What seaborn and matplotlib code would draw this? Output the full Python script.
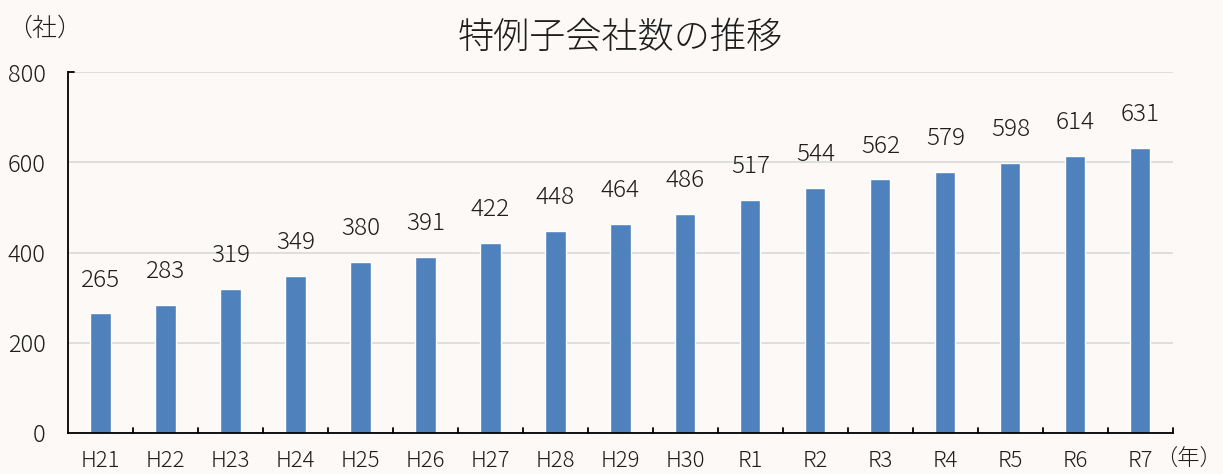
import matplotlib
matplotlib.use("Agg")
import matplotlib.pyplot as plt
import seaborn as sns
import pandas as pd

years = ["H21", "H22", "H23", "H24", "H25", "H26", "H27", "H28", "H29",
         "H30", "R1", "R2", "R3", "R4", "R5", "R6", "R7"]
counts = [265, 283, 319, 349, 380, 391, 422, 448, 464,
          486, 517, 544, 562, 579, 598, 614, 631]

sns.set_style("white")
plt.rcParams['font.family'] = ['Noto Sans CJK JP', 'DejaVu Sans']
plt.rcParams['font.weight'] = 'light'

bg = "#FCF9F6"
txt = "#1E1E1E"
df = pd.DataFrame({"year": years, "count": counts})

fig = plt.figure(figsize=(12.23, 4.74), dpi=100, facecolor=bg)
ax = fig.add_axes([0.0556, 0.0865, 0.9034, 0.7615])
ax.set_facecolor(bg)

sns.barplot(data=df, x="year", y="count", color="#4F81BD", saturation=1,
            width=0.31, ax=ax)

ax.set_ylim(0, 800)
ax.set_xlim(-0.5, len(years) - 0.5)
ax.set_yticks([0, 200, 400, 600, 800])
ax.yaxis.grid(True, color="#D9D9D9", linewidth=1.2)
ax.set_axisbelow(True)
for s in ["top", "right"]:
    ax.spines[s].set_visible(False)
ax.spines["left"].set_color("black")
ax.spines["bottom"].set_color("black")
ax.spines["left"].set_linewidth(1.3)
ax.spines["bottom"].set_linewidth(1.3)

ax.set_xlabel("")
ax.set_ylabel("")
ax.tick_params(axis="y", labelsize=17, length=0, pad=16, labelcolor=txt)
ax.tick_params(axis="x", labelsize=16, length=0, pad=12, labelcolor=txt)

# category separator ticks on the x axis
for i in range(len(years)):
    ax.plot([i + 0.5, i + 0.5], [0, 12], color="black", linewidth=1.3, clip_on=False)
ax.plot([-0.5, -0.4], [800, 800], color="black", linewidth=1.3, clip_on=False)

for i, v in enumerate(counts):
    ax.annotate(str(v), (i, v), xytext=(0, 24), textcoords="offset points",
                ha="center", va="center", fontsize=17.5, color=txt)

fig.text(0.507, 0.92, "特例子会社数の推移", ha="center", va="center", fontsize=26, color=txt)
fig.text(0.006, 0.94, "（社）", ha="left", va="center", fontsize=18, color=txt)
fig.text(0.999, 0.03, "（年）", ha="right", va="center", fontsize=16, color=txt)

fig.savefig("out.png", dpi=100, facecolor=bg)
